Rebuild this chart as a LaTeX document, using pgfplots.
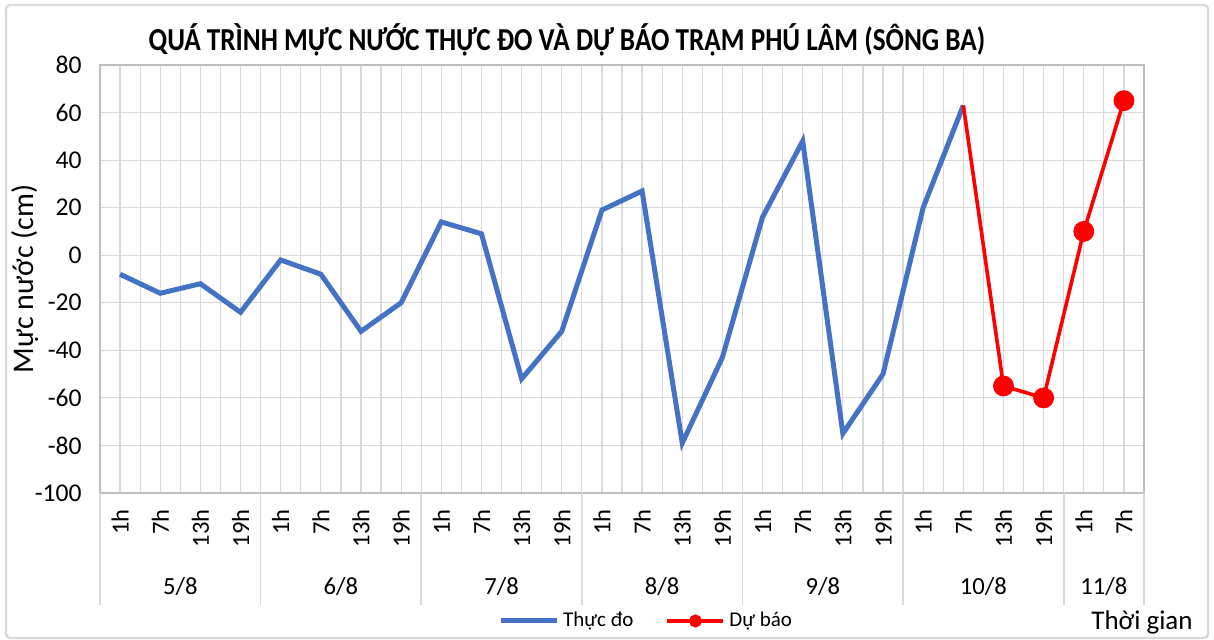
\documentclass[border=0pt]{standalone}
\usepackage{fontspec}
\setmainfont{Carlito}
\usepackage{pgfplots}
\pgfplotsset{compat=1.18}
\definecolor{cblue}{HTML}{4472C4}
\definecolor{cred}{HTML}{FF0000}
\definecolor{cgrid}{HTML}{D9D9D9}
\definecolor{caxis}{HTML}{BFBFBF}
\begin{document}
\begin{tikzpicture}
\path[use as bounding box] (0,0) rectangle (607pt,320pt);
\draw[cgrid, line width=1.2pt, rounded corners=2pt] (3pt,1pt) rectangle (604pt,317.5pt);
\node[font=\bfseries\fontsize{16}{18}\selectfont] at (283.5pt,300pt) {\scalebox{0.85}[1]{QUÁ TRÌNH MỰC NƯỚC THỰC ĐO VÀ DỰ BÁO TRẠM PHÚ LÂM (SÔNG BA)}};
\node[font=\fontsize{13.5}{16}\selectfont] at (571pt,9pt) {Thời gian};
\begin{axis}[
  at={(50pt,73.5pt)}, anchor=south west, scale only axis,
  width=522pt, height=214pt,
  clip=false,
  xmin=-0.5, xmax=25.5, ymin=-100, ymax=80,
  ytick={-100,-80,...,80},
  xtick={0,...,25},
  xticklabels={1h,7h,13h,19h,1h,7h,13h,19h,1h,7h,13h,19h,1h,7h,13h,19h,1h,7h,13h,19h,1h,7h,13h,19h,1h,7h},
  minor xtick={-0.5,0.5,...,25.5},
  grid=both,
  major grid style={cgrid, line width=0.6pt},
  minor grid style={cgrid, line width=0.6pt},
  major tick length=0pt, minor tick length=0pt,
  axis line style={caxis, line width=0.6pt},
  /pgf/number format/assume math mode=true,
  xticklabel style={yshift=-8pt, rotate=90, anchor=east, inner sep=0pt, font=\fontsize{12.3}{14}\selectfont},
  yticklabel style={anchor=east, inner sep=0pt, xshift=-9pt, font=\fontsize{12.8}{14}\selectfont},
  ylabel={Mực nước (cm)},
  ylabel style={at={(axis description cs:-0.0718,0.5)}, anchor=center, font=\fontsize{15}{17}\selectfont},
  legend style={at={(0.524,-0.299)}, anchor=center, draw=none, fill=none,
    font=\fontsize{10.5}{12}\selectfont, legend columns=2,
    /tikz/every even column/.append style={column sep=14pt}},
  legend image code/.code={\draw[#1] plot coordinates {(0pt,0pt) (14pt,0pt) (28pt,0pt)};},
]
\addplot[cblue, line width=2.5pt, line join=miter, no marks] coordinates {
(0,-8) (1,-16) (2,-12) (3,-24) (4,-2) (5,-8) (6,-32) (7,-20)
(8,14) (9,9) (10,-52) (11,-32) (12,19) (13,27) (14,-79) (15,-43)
(16,16) (17,48) (18,-75) (19,-50) (20,20) (21,63)
};
\addlegendentry{Thực đo}
\addplot[cred, line width=1.8pt, no marks, forget plot] coordinates {
(21,63) (22,-55) (23,-60) (24,10) (25,65)
};
\addplot[cred, only marks, mark=*, mark size=5pt, forget plot] coordinates {
(22,-55) (23,-60) (24,10) (25,65)
};
\addlegendimage{cred, line width=2pt, mark=*, mark size=2.2pt, mark repeat=2, mark phase=2}
\addlegendentry{Dự báo}
\draw[cgrid, line width=0.8pt] (axis cs:-0.5,-100) -- ([yshift=-56pt]axis cs:-0.5,-100);
\draw[cgrid, line width=0.8pt] (axis cs:3.5,-100) -- ([yshift=-56pt]axis cs:3.5,-100);
\draw[cgrid, line width=0.8pt] (axis cs:7.5,-100) -- ([yshift=-56pt]axis cs:7.5,-100);
\draw[cgrid, line width=0.8pt] (axis cs:11.5,-100) -- ([yshift=-56pt]axis cs:11.5,-100);
\draw[cgrid, line width=0.8pt] (axis cs:15.5,-100) -- ([yshift=-56pt]axis cs:15.5,-100);
\draw[cgrid, line width=0.8pt] (axis cs:19.5,-100) -- ([yshift=-56pt]axis cs:19.5,-100);
\draw[cgrid, line width=0.8pt] (axis cs:23.5,-100) -- ([yshift=-56pt]axis cs:23.5,-100);
\draw[cgrid, line width=0.8pt] (axis cs:25.5,-100) -- ([yshift=-56pt]axis cs:25.5,-100);
\node[font=\fontsize{12.3}{14}\selectfont, yshift=-46.5pt] at (axis cs:1.5,-100) {5/8};
\node[font=\fontsize{12.3}{14}\selectfont, yshift=-46.5pt] at (axis cs:5.5,-100) {6/8};
\node[font=\fontsize{12.3}{14}\selectfont, yshift=-46.5pt] at (axis cs:9.5,-100) {7/8};
\node[font=\fontsize{12.3}{14}\selectfont, yshift=-46.5pt] at (axis cs:13.5,-100) {8/8};
\node[font=\fontsize{12.3}{14}\selectfont, yshift=-46.5pt] at (axis cs:17.5,-100) {9/8};
\node[font=\fontsize{12.3}{14}\selectfont, yshift=-46.5pt] at (axis cs:21.5,-100) {10/8};
\node[font=\fontsize{12.3}{14}\selectfont, yshift=-46.5pt] at (axis cs:24.5,-100) {11/8};
\end{axis}
\end{tikzpicture}
\end{document}
